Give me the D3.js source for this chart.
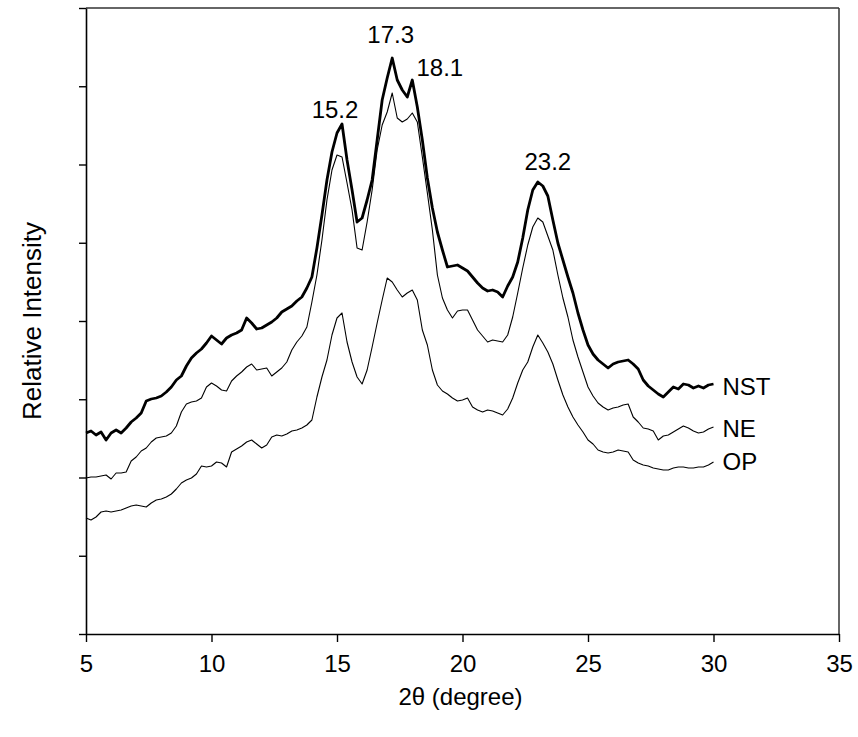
<!DOCTYPE html>
<html><head><meta charset="utf-8">
<script src="https://cdn.jsdelivr.net/npm/d3@7/dist/d3.min.js"></script>
<style>
body{margin:0;background:#fff}
text{font-family:"Liberation Sans",Arial,sans-serif;fill:#000}
</style>
</head><body>
<svg id="chart" width="858" height="737"></svg>
<script>
// ---- data (relative intensity, arbitrary units), scan 5..30 deg, step 0.2 ----
const angleStart = 5, angleStep = 0.2;
const NST = [201,203,199,202,194,201,204,201,206,212,216,221,233,235,236,238,242,247,254,258,
268,276,281,285,291,298,294,290,296,299,301,304,316,311,305,306,309,312,316,322,
325,328,333,337,346,357,386,419,454,482,501,510,474,444,412,416,434,454,494,534,
556,576,554,544,537,554,527,494,456,426,402,384,367,368,369,366,363,357,351,346,
343,344,342,337,348,357,372,396,424,444,452,448,438,414,391,374,357,341,321,304,
289,280,274,270,266,270,272,273,274,270,265,254,248,244,240,237,242,247,245,250,
249,246,248,246,249,250];
const NE = [156,157,157,158,159,155,161,161,162,173,177,183,186,192,196,197,198,201,208,222,
230,232,233,236,247,251,248,244,243,253,258,262,267,270,264,265,266,258,262,266,
272,284,292,298,307,332,359,394,434,464,479,477,451,424,386,384,412,444,484,509,
522,541,516,512,515,521,512,477,441,404,359,336,324,316,323,324,324,314,304,298,
292,294,293,292,299,317,341,366,389,407,416,412,398,384,359,336,317,294,277,262,
247,238,231,227,224,226,227,229,230,217,212,206,205,203,194,198,199,202,205,208,
206,203,201,202,205,207];
const OP = [116,114,117,122,123,122,123,124,126,128,129,128,127,131,134,135,137,140,145,151,
154,156,160,168,167,168,172,171,167,182,185,188,192,194,190,186,189,197,199,198,
200,203,204,206,209,214,237,257,274,299,316,321,292,272,257,250,264,287,311,334,
356,352,344,337,341,344,334,304,289,264,249,243,240,236,233,234,236,227,224,222,
224,223,221,219,225,236,251,264,272,287,299,291,282,270,254,239,227,217,209,202,
194,190,184,182,181,182,184,183,182,174,171,169,168,166,165,164,164,166,167,167,
166,166,167,167,169,172];
const seriesNames = ["NST","NE","OP"];
const xTicks = [5,10,15,20,25,30,35];
const yMax = 626;
const yTickCount = 8;
const peakAngles = [15.2,17.3,18.1,23.2];
const peakLabels = ["15.2","17.3","18.1","23.2"];

// ---- layout ----
const svg = d3.select("#chart");
const L = 86, R = 839, T = 8, B = 634;
const x = d3.scaleLinear().domain([5,35]).range([L,R]);
const y = d3.scaleLinear().domain([0,yMax]).range([B,T]);
const FS = 24;

const toPts = arr => arr.map((v,i)=>[angleStart + i*angleStep, v]);
const line = d3.line().x(d=>x(d[0])).y(d=>y(d[1])).curve(d3.curveLinear);

// frame top & right
svg.append("line").attr("x1",L).attr("x2",R).attr("y1",T).attr("y2",T)
  .attr("stroke","#333").attr("stroke-width",1.5);
svg.append("line").attr("x1",R).attr("x2",R).attr("y1",T).attr("y2",B)
  .attr("stroke","#333").attr("stroke-width",1.5);

// series
const data = [NST, NE, OP];
const widths = [2.8, 1.1, 1.1];
data.forEach((arr,k)=>{
  svg.append("path").datum(toPts(arr)).attr("d",line)
    .attr("fill","none").attr("stroke","#000").attr("stroke-width",widths[k])
    .attr("stroke-linejoin","round");
});

// axes
const yTicks = d3.range(0,yTickCount+1).map(i=>i*yMax/yTickCount);
const gx = svg.append("g").attr("transform",`translate(0,${B})`)
  .call(d3.axisBottom(x).tickValues(xTicks).tickSize(8).tickSizeOuter(0).tickPadding(13).tickFormat(d3.format("d")));
const gy = svg.append("g").attr("transform",`translate(${L},0)`)
  .call(d3.axisLeft(y).tickValues(yTicks).tickSize(7).tickSizeOuter(0).tickFormat(""));
[gx,gy].forEach(g=>{
  g.select(".domain").attr("stroke","#000").attr("stroke-width",1.6);
  g.selectAll(".tick line").attr("stroke","#000").attr("stroke-width",1.4);
  g.selectAll("text").attr("font-size",FS).attr("font-family",'"Liberation Sans",Arial,sans-serif').attr("fill","#000");
});

// axis titles
svg.append("text").attr("x",(L+R)/2 - 2).attr("y",705).attr("text-anchor","middle")
  .attr("font-size",FS).text("2θ (degree)");
svg.append("text").attr("transform",`translate(41,${(T+B)/2}) rotate(-90)`)
  .attr("text-anchor","middle").attr("font-size",26).text("Relative Intensity");

// peak labels
const peakDx = [-7,-4,25,5], peakDy = [-6,-15,-4,-12];
peakAngles.forEach((a,i)=>{
  const pts = toPts(NST).filter(p=>Math.abs(p[0]-a)<=0.21);
  const top = d3.max(pts,p=>p[1]);
  svg.append("text").attr("x",x(a)+peakDx[i]).attr("y",y(top)+peakDy[i])
    .attr("text-anchor","middle").attr("font-size",FS).text(peakLabels[i]);
});

// series labels
const lblDy = [11,10,8];
data.forEach((arr,k)=>{
  svg.append("text").attr("x",x(30)+9).attr("y",y(arr[arr.length-1])+lblDy[k])
    .attr("font-size",FS).text(seriesNames[k]);
});
</script>
</body></html>
